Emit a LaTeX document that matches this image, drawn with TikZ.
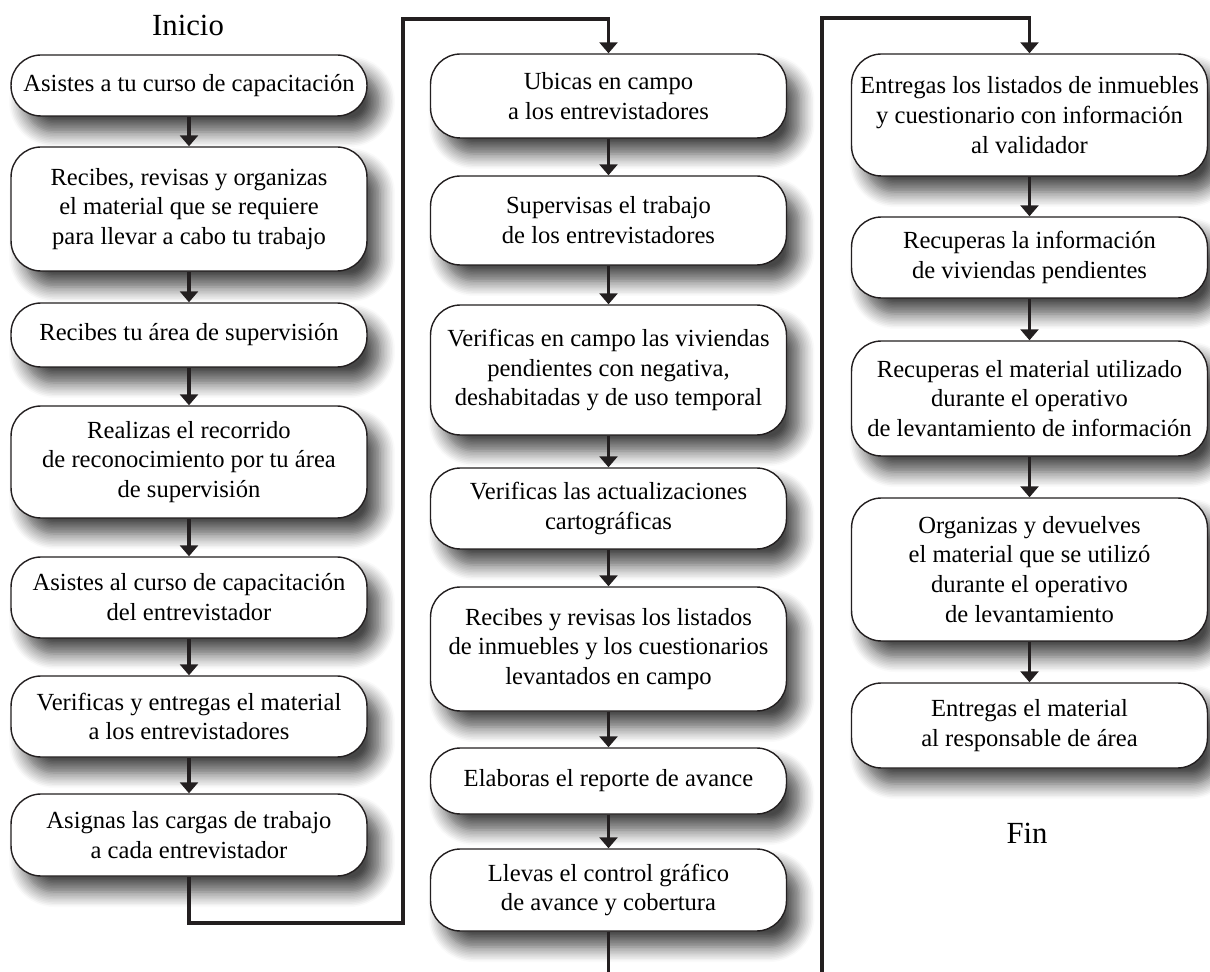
\documentclass[tikz,border=0pt]{standalone}
\usepackage{fontspec}
\setmainfont{Liberation Serif}
\usepackage{tikz}
\usetikzlibrary{arrows.meta, positioning, shadows.blur}
\definecolor{trazo}{RGB}{35, 31, 32}

\begin{document}
\begin{tikzpicture}[x=0.02cm, y=-0.02cm,
    paso/.style={draw=trazo, line width=0.8pt, fill=white, rounded corners=0.6cm,
      minimum width=7.12cm, align=center, font=\fontsize{14}{17}\selectfont,
      blur shadow={shadow xshift=0.26cm, shadow yshift=-0.32cm,
        shadow blur radius=0.3cm, shadow blur steps=10, shadow opacity=72}},
    linea/.style={draw=trazo, line width=1.8pt},
    flecha/.style={linea, -{Triangle[width=0.36cm, length=0.22cm]}},
    titulo/.style={font=\fontsize{17.5}{20}\selectfont}]
  \useasboundingbox (0,0) rectangle (1210,972);

  % columna 1
  \node[titulo] (inicio) at (188,25) {Inicio};
  \foreach \yc/\h/\txt [count=\i] in {
    85.5/61/{Asistes a tu curso de capacitación},
    209/124/{Recibes, revisas y organizas\\el material que se requiere\\para llevar a cabo tu trabajo},
    335/64/{Recibes tu área de supervisión},
    462/112/{Realizas el recorrido\\de reconocimiento por tu área\\de supervisión},
    597.5/81/{Asistes al curso de capacitación\\del entrevistador},
    716.5/81/{Verificas y entregas el material\\a los entrevistadores},
    835/82/{Asignas las cargas de trabajo\\a cada entrevistador}}{
    \node[paso, minimum height=\h*0.02cm] (c1-\i) at (189,\yc) {\txt};
  }

  % columna 2
  \foreach \yc/\h/\txt [count=\i] in {
    96/84/{Ubicas en campo\\a los entrevistadores},
    220.5/89/{Supervisas el trabajo\\de los entrevistadores},
    370/130/{Verificas en campo las viviendas\\pendientes con negativa,\\deshabitadas y de uso temporal},
    508.5/81/{Verificas las actualizaciones\\cartográficas},
    649/124/{Recibes y revisas los listados\\de inmuebles y los cuestionarios\\levantados en campo},
    781/66/{Elaboras el reporte de avance},
    890/82/{Llevas el control gráfico\\de avance y cobertura}}{
    \node[paso, minimum height=\h*0.02cm] (c2-\i) at (608.5,\yc) {\txt};
  }

  % columna 3
  \foreach \yc/\h/\txt [count=\i] in {
    115/122/{Entregas los listados de inmuebles\\y cuestionario con información\\al validador},
    257.5/81/{Recuperas la información\\de viviendas pendientes},
    398.5/115/{Recuperas el material utilizado\\durante el operativo\\de levantamiento de información},
    569.5/143/{Organizas y devuelves\\el material que se utilizó\\durante el operativo\\de levantamiento},
    725.5/85/{Entregas el material\\al responsable de área}}{
    \node[paso, minimum height=\h*0.02cm] (c3-\i) at (1029.5,\yc) {\txt};
  }
  \node[titulo] (fin) at (1027,833) {Fin};

  % flechas
  \foreach \i [evaluate=\i as \j using int(\i+1)] in {1,...,6}{
    \draw[flecha] (c1-\i) -- (c1-\j);
    \draw[flecha] (c2-\i) -- (c2-\j);
  }
  \foreach \i [evaluate=\i as \j using int(\i+1)] in {1,...,4}
    \draw[flecha] (c3-\i) -- (c3-\j);

  % enlaces entre columnas
  \coordinate (v1b) at (403,923);
  \coordinate (v1t) at (403,19);
  \draw[flecha] (c1-7.south) |- (v1b) -- (v1t) -| (c2-1.north);
  \coordinate (fondo2) at (608.5,972);
  \draw[linea] (c2-7.south) -- (fondo2);
  \coordinate (v2b) at (822,972);
  \coordinate (v2t) at (822,18);
  \draw[flecha] (v2b) -- (v2t) -| (c3-1.north);
\end{tikzpicture}
\end{document}
